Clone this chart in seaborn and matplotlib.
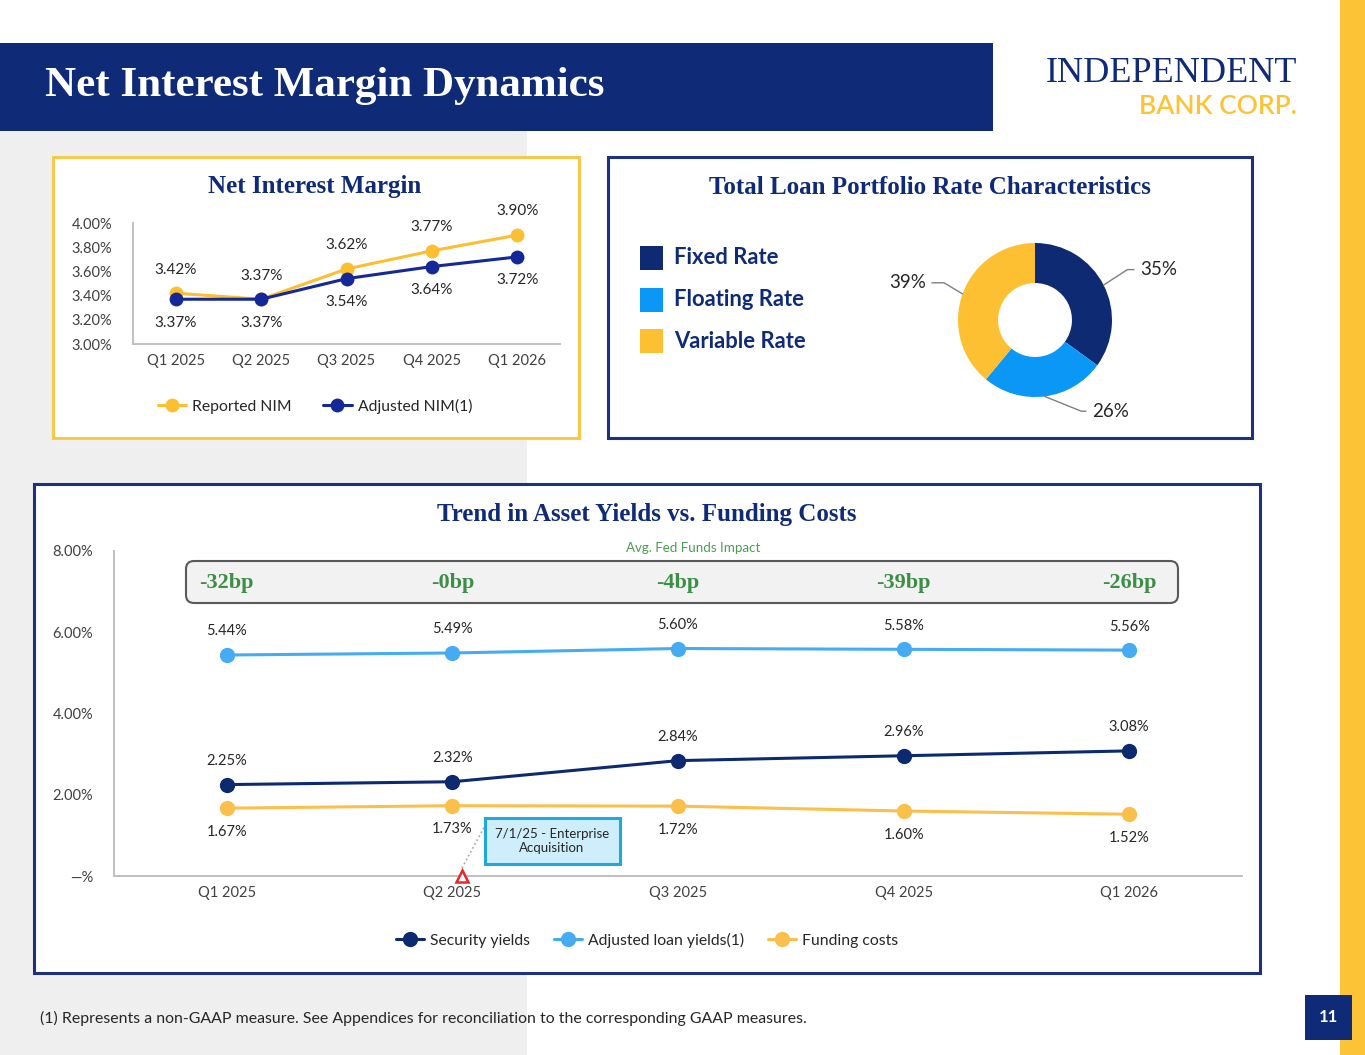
import matplotlib
matplotlib.use('Agg')
import matplotlib.pyplot as plt
import seaborn as sns
import pandas as pd
import numpy as np
from matplotlib.transforms import Affine2D
from matplotlib.patches import Rectangle, FancyBboxPatch
from matplotlib.lines import Line2D
from matplotlib.ticker import FuncFormatter

# ---- data ----
quarters = ['Q1 2025', 'Q2 2025', 'Q3 2025', 'Q4 2025', 'Q1 2026']
reported_nim = [3.42, 3.37, 3.62, 3.77, 3.90]
adjusted_nim = [3.37, 3.37, 3.54, 3.64, 3.72]

loan_types = ['Fixed Rate', 'Floating Rate', 'Variable Rate']
loan_shares = [35, 26, 39]

security_yields = [2.25, 2.32, 2.84, 2.96, 3.08]
loan_yields = [5.44, 5.49, 5.60, 5.58, 5.56]
funding_costs = [1.67, 1.73, 1.72, 1.60, 1.52]
fed_funds_impact = ['-32bp', '-0bp', '-4bp', '-39bp', '-26bp']

# ---- colours ----
NAVY = '#0f2b78'
PANEL_NAVY = '#1c3280'
GOLD = '#fbbf2f'
STRIP = '#fdc336'
NIM_BLUE = '#15289a'
SEC_NAVY = '#0d2a70'
LOAN_BLUE = '#45acf4'
FUND_GOLD = '#fbbf4c'
DONUT = ['#0d2a73', '#0a97f5', '#fdc033']
GREEN = '#3d8f45'
TXT = '#262626'
TICK = '#404040'

sns.set_style('white')
plt.rcParams['font.family'] = ['Lato', 'DejaVu Sans']
SERIF = ['Liberation Serif', 'DejaVu Serif']

W, H = 1365, 1055
fig = plt.figure(figsize=(W / 100, H / 100), dpi=100)
pix = Affine2D().scale(1 / W, -1 / H).translate(0, 1) + fig.transFigure


def rect(x0, y0, x1, y1, **kw):
    fig.add_artist(Rectangle((x0, y0), x1 - x0, y1 - y0, transform=pix, **kw))


def box(x0, y0, x1, y1):
    return [x0 / W, 1 - y1 / H, (x1 - x0) / W, (y1 - y0) / H]


def ftext(x, y, s, **kw):
    kw.setdefault('va', 'center')
    fig.text(x, y, s, transform=pix, **kw)


# ---- slide furniture ----
rect(0, 131, 527, 1055, facecolor='#efefef', edgecolor='none', zorder=-5)
rect(0, 43, 993, 131, facecolor=NAVY, edgecolor='none', zorder=-4)
rect(1340, 0, 1365, 1055, facecolor=STRIP, edgecolor='none', zorder=-4)
ftext(45, 86, 'Net Interest Margin Dynamics', color='white', fontsize=31,
      fontweight='bold', family=SERIF)
ftext(1297, 74, 'INDEPENDENT', color=NAVY, fontsize=26, family=SERIF, ha='right')
ftext(1297, 107, 'BANK CORP.', color=STRIP, fontsize=19, fontweight='semibold', ha='right')
rect(1305, 995, 1352, 1040, facecolor=NAVY, edgecolor='none', zorder=-4)
ftext(1328, 1017, '11', color='white', fontsize=12, fontweight='bold', ha='center')
ftext(40, 1018, '(1) Represents a non-GAAP measure. See Appendices for reconciliation '
      'to the corresponding GAAP measures.', color=TXT, fontsize=11.4)

# panels
rect(53, 157, 579, 438, facecolor='white', edgecolor='#f8c84a', lw=2.2, zorder=-3)
rect(608, 157, 1252, 438, facecolor='white', edgecolor=PANEL_NAVY, lw=2.2, zorder=-3)
rect(34, 484, 1260, 973, facecolor='white', edgecolor=PANEL_NAVY, lw=2.2, zorder=-3)


def style_axes(ax):
    ax.patch.set_alpha(0)
    for s in ['top', 'right']:
        ax.spines[s].set_visible(False)
    for s in ['left', 'bottom']:
        ax.spines[s].set_color('#bfbfbf')
        ax.spines[s].set_linewidth(1.4)
    ax.tick_params(length=0, labelsize=10.5, labelcolor=TICK)
    ax.tick_params(axis='y', pad=15)
    ax.tick_params(axis='x', pad=7)
    ax.set_xlabel('')
    ax.set_ylabel('')
    ax.set_xlim(-0.5, 4.5)
    ax.set_xticks(range(len(quarters)))
    ax.set_xticklabels(quarters)


# ---- Net Interest Margin ----
ftext(315, 187, 'Net Interest Margin', color=NAVY, fontsize=18, fontweight='bold',
      family=SERIF, ha='center')
ax1 = fig.add_axes(box(133, 223, 560, 344))
nim = pd.DataFrame({
    'pos': list(range(5)) * 2,
    'value': reported_nim + adjusted_nim,
    'series': ['Reported NIM'] * 5 + ['Adjusted NIM(1)'] * 5,
})
nim_pal = {'Reported NIM': GOLD, 'Adjusted NIM(1)': NIM_BLUE}
sns.lineplot(data=nim, x='pos', y='value', hue='series', palette=nim_pal, marker='o',
             markersize=10, markeredgewidth=0, linewidth=2.2, legend=False, ax=ax1)
style_axes(ax1)
ax1.set_ylim(3.0, 4.0)
ax1.set_yticks(np.arange(3.0, 4.01, 0.2))
ax1.yaxis.set_major_formatter(FuncFormatter(lambda v, p: f'{v:.2f}%'))
for i, v in enumerate(reported_nim):
    ax1.annotate(f'{v:.2f}%', (i, v), xytext=(0, 17), textcoords='offset points',
                 ha='center', va='center', fontsize=11, color=TXT)
for i, v in enumerate(adjusted_nim):
    ax1.annotate(f'{v:.2f}%', (i, v), xytext=(0, -17), textcoords='offset points',
                 ha='center', va='center', fontsize=11, color=TXT)
h1 = [Line2D([0], [0], color=c, lw=2.2, marker='o', ms=10, mew=0) for c in nim_pal.values()]
ax1.legend(h1, list(nim_pal.keys()), loc='center', bbox_to_anchor=(315, 406),
           bbox_transform=pix, ncol=2, frameon=False, fontsize=11.3, handlelength=1.8,
           handletextpad=0.4, columnspacing=2.0, labelcolor=TXT)

# ---- Loan portfolio donut ----
ftext(930, 187, 'Total Loan Portfolio Rate Characteristics', color=NAVY, fontsize=18,
      fontweight='bold', family=SERIF, ha='center')
for k, (name, col) in enumerate(zip(loan_types, DONUT)):
    yc = 258 + k * 41.5
    rect(640, yc - 12, 663, yc + 12, facecolor=col, edgecolor='none', zorder=2)
    ftext(674, yc, name, color=NAVY, fontsize=15.8, fontweight='bold')

ax2 = fig.add_axes(box(915, 200, 1155, 440))
r = 77 / 120
wedges, _ = ax2.pie(loan_shares, colors=DONUT, startangle=90, counterclock=False,
                    radius=r, wedgeprops=dict(width=r * 0.52, linewidth=0))
ax2.set_xlim(-1, 1)
ax2.set_ylim(-1, 1)
ax2.axis('off')
label_pos = [(0.875, 0.42), (0.475, -0.76), (-0.91, 0.31)]
leader_ang = [33, -22, -31]
for w, share, (tx, ty), ang in zip(wedges, loan_shares, label_pos, leader_ang):
    mid = np.deg2rad((w.theta1 + w.theta2) / 2)
    right = tx > 0
    ax2.annotate(f'{share}%', xy=(r * np.cos(mid), r * np.sin(mid)), xytext=(tx, ty),
                 ha='left' if right else 'right', va='center', fontsize=13.5, color=TXT,
                 arrowprops=dict(arrowstyle='-', color='#7f7f7f', lw=1, shrinkA=2, shrinkB=0,
                                 relpos=(0, 0.5) if right else (1, 0.5),
                                 connectionstyle=f'angle,angleA=0,angleB={ang},rad=0'))

# ---- Trend in asset yields vs funding costs ----
ftext(647, 514, 'Trend in Asset Yields vs. Funding Costs', color=NAVY, fontsize=18,
      fontweight='bold', family=SERIF, ha='center')
ftext(693, 548, 'Avg. Fed Funds Impact', color='#4a9d4f', fontsize=9.6, ha='center')

ax3 = fig.add_axes(box(114, 551, 1242, 876))
trend = pd.DataFrame({
    'pos': list(range(5)) * 3,
    'value': security_yields + loan_yields + funding_costs,
    'series': ['Security yields'] * 5 + ['Adjusted loan yields(1)'] * 5 + ['Funding costs'] * 5,
})
trend_pal = {'Security yields': SEC_NAVY, 'Adjusted loan yields(1)': LOAN_BLUE,
             'Funding costs': FUND_GOLD}
sns.lineplot(data=trend, x='pos', y='value', hue='series', palette=trend_pal, marker='o',
             markersize=11, markeredgewidth=0, linewidth=2.2, legend=False, ax=ax3)
style_axes(ax3)
ax3.set_ylim(0, 8)
ax3.set_yticks([0, 2, 4, 6, 8])
ax3.yaxis.set_major_formatter(FuncFormatter(lambda v, p: '—%' if v == 0 else f'{v:.2f}%'))
for series, offs in [(loan_yields, 17), (security_yields, 17), (funding_costs, -17)]:
    for i, v in enumerate(series):
        ax3.annotate(f'{v:.2f}%', (i, v), xytext=(0, offs), textcoords='offset points',
                     ha='center', va='center', fontsize=10.5, color=TXT)

fig.add_artist(FancyBboxPatch((186, 561), 992, 42, boxstyle='round,pad=0,rounding_size=8',
                              transform=pix, facecolor='#f2f2f2', edgecolor='#595959',
                              lw=1.5, zorder=-2))
for i, s in enumerate(fed_funds_impact):
    ax3.text(i, 7.21, s, ha='center', va='center', fontsize=16, fontweight='bold',
             color=GREEN, family=SERIF)

# acquisition marker
ax3.plot([1.043], [0], marker='^', ms=9, mfc='white', mec='#e8262b', mew=1.8,
         clip_on=False, zorder=5)
fig.add_artist(Line2D([462, 487], [868, 822], transform=pix, color='#a6a6a6', lw=1.2,
                      ls=':', zorder=1))
rect(485, 818, 620, 864, facecolor='#cdeefa', edgecolor='#1ea8dc', lw=2.2, zorder=2)
ftext(552, 841, '7/1/25 - Enterprise\nAcquisition', color=TXT, fontsize=9.5, ha='center',
      multialignment='center', linespacing=1.3, zorder=3)

h3 = [Line2D([0], [0], color=c, lw=2.2, marker='o', ms=11, mew=0) for c in trend_pal.values()]
ax3.legend(h3, list(trend_pal.keys()), loc='center', bbox_to_anchor=(647, 940),
           bbox_transform=pix, ncol=3, frameon=False, fontsize=11.3, handlelength=1.8,
           handletextpad=0.4, columnspacing=1.5, labelcolor=TXT)

fig.savefig('out.png', dpi=100, facecolor='white')
